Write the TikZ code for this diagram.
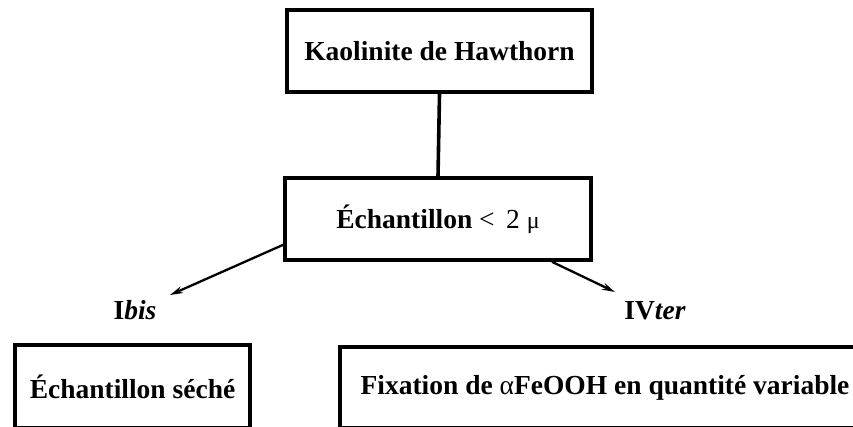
\documentclass[tikz,border=0pt]{standalone}
\usepackage{fontspec}
\setmainfont{Liberation Serif}
\usetikzlibrary{arrows.meta,calc}
\newcommand{\boxline}{3.6pt}
\newcommand{\arrowline}{2.3pt}
\newcommand{\txtsize}{\fontsize{27.5}{32}\selectfont\bfseries}

\begin{document}
\begin{tikzpicture}[x=1pt,y=-1pt,
  box/.style={draw,line width=\boxline,rectangle,inner sep=0pt,font=\txtsize},
  lbl/.style={inner sep=1pt,font=\txtsize},
  fleche/.style={line width=\arrowline,-{Stealth[length=13pt,width=7pt]}}]
\clip (0,0) rectangle (853,427);
% boites
\node[box,minimum width=305,minimum height=82] (kaol) at (439.5,51) {Kaolinite de Hawthorn};
\node[box,minimum width=306,minimum height=82] (ech) at (438,219) {Échantillon {\mdseries <\, 2 {\fontsize{24}{24}\selectfont μ}}};
\node[box,minimum width=235,minimum height=83] (seche) at (132.5,386.5) {Échantillon séché};
\node[box,minimum width=530,minimum height=81] (fix) at (605,387.5) {Fixation de {\mdseries α}FeOOH en quantité variable};
% etiquettes
\node[lbl] (ibis) at (135,310) {I\textit{bis}};
\node[lbl] (ivter) at (655,311) {IV\textit{ter}};
\coordinate (gtip) at (170,295);
\coordinate (dtip) at (615,292);
% liaisons
\draw[line width=\boxline] (kaol.south) -- (ech.north);
\draw[fleche] ($(ech.south west)+(0,-17)$) -- (gtip);
\draw[fleche] ($(ech.south)+(114,0)$) -- (dtip);
\end{tikzpicture}
\end{document}
